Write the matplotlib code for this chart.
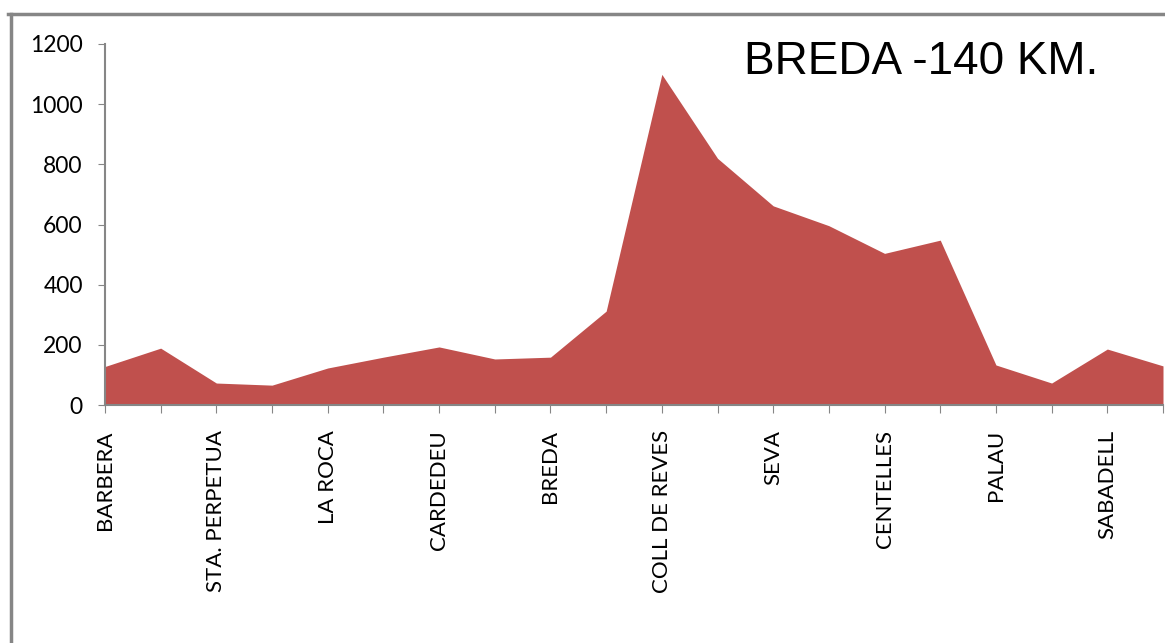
import matplotlib
matplotlib.use("Agg")
import matplotlib.pyplot as plt
from matplotlib.lines import Line2D

# elevation profile (m) at each control point along the route
places = ["BARBERA", "", "STA. PERPETUA", "", "LA ROCA", "", "CARDEDEU", "",
          "BREDA", "", "COLL DE REVES", "", "SEVA", "", "CENTELLES", "",
          "PALAU", "", "SABADELL", ""]
altitude = [128, 189, 73, 66, 123, 159, 193, 153, 159, 312,
            1099, 820, 662, 596, 504, 548, 133, 73, 186, 130]
title = "BREDA -140 KM."

fig = plt.figure(figsize=(11.65, 6.43), dpi=100)
ax = fig.add_axes([105 / 1165, 1 - 405 / 643, 1058 / 1165, 361 / 643])

x = list(range(len(altitude)))
ax.fill_between(x, altitude, 0, color="#C0504D", linewidth=0)

ax.set_xlim(0, len(altitude) - 1)
ax.set_ylim(0, 1200)
ax.set_yticks(range(0, 1201, 200))
ax.set_xticks(x)
ax.set_xticklabels(places, rotation=90, va="top", ha="center",
                   fontsize=16, family="Lato")
for lab in ax.get_yticklabels():
    lab.set_fontsize(16.5)
    lab.set_family("Lato")

for s in ["top", "right"]:
    ax.spines[s].set_visible(False)
for s in ["left", "bottom"]:
    ax.spines[s].set_color("#868686")
    ax.spines[s].set_linewidth(1.5)
ax.tick_params(axis="y", direction="out", length=5, color="#868686", pad=11)
ax.tick_params(axis="x", direction="out", length=6, color="#868686", pad=12)

ax.text(0.9386, 1.012, title, transform=ax.transAxes, ha="right", va="top",
        fontsize=33, family="Liberation Sans")

# chart frame (cropped at right and bottom)
fig.add_artist(Line2D([8 / 1165, 1], [1 - 14 / 643, 1 - 14 / 643],
                      color="#868686", lw=2.5, transform=fig.transFigure))
fig.add_artist(Line2D([11 / 1165, 11 / 1165], [1 - 14 / 643, 0],
                      color="#868686", lw=2.5, transform=fig.transFigure))

fig.savefig("out.png", dpi=100)
